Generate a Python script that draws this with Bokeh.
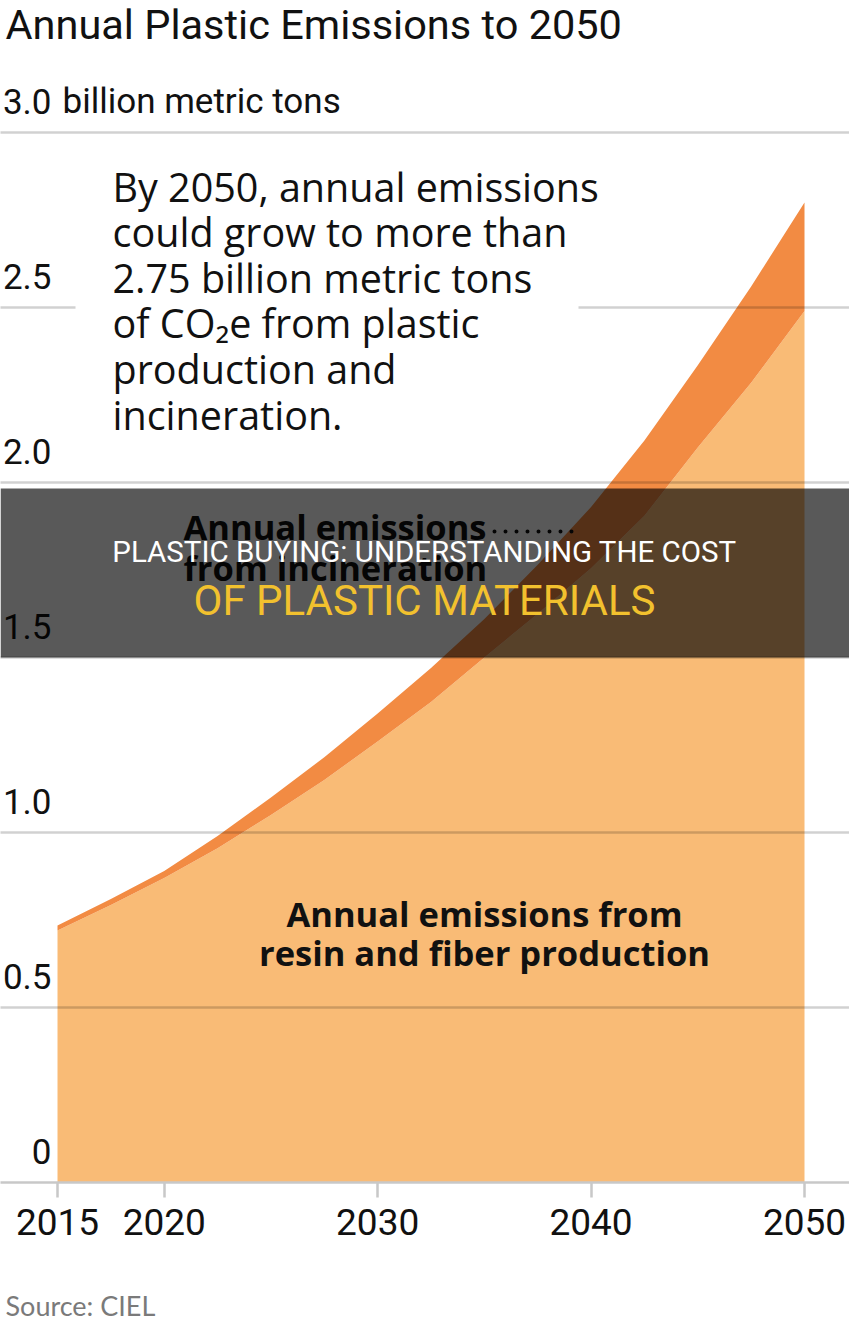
from bokeh.plotting import figure
from bokeh.models import Range1d, FixedTicker, Label, BoxAnnotation, ColumnDataSource, Grid, Title
from bokeh.embed import file_html
from bokeh.resources import INLINE
from bokeh.core.properties import value

# ---------------- data ----------------
years = [2015, 2017.5, 2020, 2022.5, 2025, 2027.5, 2030, 2032.5, 2035,
         2037.5, 2040, 2042.5, 2045, 2047.5, 2050]
# annual emissions from resin and fiber production (billion t CO2e)
resin_fiber = [0.72, 0.793, 0.87, 0.955, 1.05, 1.15, 1.26, 1.373, 1.50,
               1.625, 1.755, 1.905, 2.10, 2.285, 2.49]
# total = resin/fiber + incineration
total = [0.734, 0.81, 0.89, 0.99, 1.10, 1.215, 1.34, 1.47, 1.61,
         1.765, 1.93, 2.12, 2.335, 2.56, 2.80]
x_ticks = [2015, 2020, 2030, 2040, 2050]
y_ticks = [0, 0.5, 1.0, 1.5, 2.0, 2.5, 3.0]
y_tick_labels = ["0", "0.5", "1.0", "1.5", "2.0", "2.5", "3.0"]
unit_text = "billion metric tons"
title_text = "Annual Plastic Emissions to 2050"
note_lines = ["By 2050, annual emissions", "could grow to more than",
              "2.75 billion metric tons", "of CO\u2082e from plastic",
              "production and", "incineration."]
resin_lines = ["Annual emissions from", "resin and fiber production"]
incin_lines = ["Annual emissions", "from incineration"]
banner_lines = ["PLASTIC BUYING: UNDERSTANDING THE COST", "OF PLASTIC MATERIALS"]
source_text = "Source: CIEL"

# ---------------- styling ----------------
COND = "Roboto"
GEO = "Open Sans"
LIGHT = "#F9BB76"
DARK = "#F28B43"
W, H = 849, 1330
AXIS_Y = 1182
BOTTOM = H - AXIS_Y
PXY = 21.343          # px per year
PXV = 350.0           # px per unit
x0 = 2015 - 57 / PXY
x1 = x0 + W / PXY
y1 = AXIS_Y / PXV

def px_x(px):   # picture pixel -> data x
    return 2015 + (px - 57) / PXY

def px_y(py):   # picture pixel -> data y
    return (AXIS_Y - py) / PXV

p = figure(width=W, height=H, x_range=Range1d(x0, x1), y_range=Range1d(0, y1),
           output_backend="svg", toolbar_location=None, y_axis_location=None,
           min_border_left=0, min_border_right=0, min_border_top=0,
           min_border_bottom=BOTTOM, outline_line_color=None,
           background_fill_color="white", border_fill_color="white")
p.xgrid.visible = False
p.ygrid.visible = False

src = ColumnDataSource(dict(year=years, resin=resin_fiber, total=total))
p.varea(x="year", y1=0, y2="resin", source=src, fill_color=LIGHT)
p.varea(x="year", y1="resin", y2="total", source=src, fill_color=DARK)

grid = Grid(dimension=1, ticker=FixedTicker(ticks=[t for t in y_ticks if t > 0]),
            grid_line_color="black", grid_line_alpha=0.18, grid_line_width=2.5,
            level="guide")
p.add_layout(grid, "center")

ax = p.xaxis[0]
ax.ticker = FixedTicker(ticks=x_ticks)
ax.axis_line_color = "#c8c8c8"
ax.axis_line_width = 2.5
ax.major_tick_line_color = "#c8c8c8"
ax.major_tick_line_width = 2.5
ax.major_tick_out = 15
ax.major_tick_in = 0
ax.minor_tick_out = 0
ax.minor_tick_in = 0
ax.major_label_standoff = 11
ax.major_label_text_font = COND
ax.major_label_text_font_size = "37px"
ax.major_label_text_color = "#111111"
# blank axis label used only as spacing before the source line
ax.axis_label = " "
ax.axis_label_text_font_size = "2px"
ax.axis_label_standoff = 44

# source line under the axis
p.add_layout(Title(text=source_text, align="left", offset=5, standoff=0,
                   text_font="Lato", text_font_size="27px",
                   text_font_style="normal", text_color="#7a7a7a"), "below")

# y tick labels sitting above their gridlines
gap = 31 / PXV
p.text(x=[px_x(51)] * len(y_ticks), y=[t + gap for t in y_ticks], text=y_tick_labels,
       text_align="right", text_baseline="alphabetic", text_font=value(COND),
       text_font_size="35px", text_color="#111111")
p.add_layout(Label(x=px_x(62), y=3.0 + gap, text=unit_text, text_align="left",
                   text_baseline="alphabetic", text_font=COND, text_font_size="35px",
                   text_color="#111111"))

# title
p.add_layout(Label(x=px_x(5), y=px_y(24), text=title_text, text_font=COND,
                   text_font_size="41.5px", text_color="#111111", text_baseline="alphabetic"))

# white block behind the note (interrupts the 2.5 gridline)
p.add_layout(BoxAnnotation(left=px_x(75), right=px_x(578), bottom=2.46, top=2.54,
                           fill_color="white", fill_alpha=1.0, line_color=None))
for i, line in enumerate(note_lines):
    p.add_layout(Label(x=px_x(112), y=px_y(186) - i * 45.6 / PXV, text=line,
                       text_font=GEO, text_font_size="39.5px", text_color="#111111",
                       text_baseline="alphabetic"))

for i, line in enumerate(resin_lines):
    p.add_layout(Label(x=px_x(484), y=px_y(913 + 39 * i), text=line, text_align="center",
                       text_font=GEO, text_font_style="bold", text_font_size="34.5px",
                       text_color="#111111", text_baseline="alphabetic"))

for i, line in enumerate(incin_lines):
    p.add_layout(Label(x=px_x(183), y=px_y(526 + 41 * i), text=line, text_align="left",
                       text_font=GEO, text_font_style="bold", text_font_size="34.5px",
                       text_color="#111111", text_baseline="alphabetic"))
p.segment(x0=[px_x(494)], y0=[px_y(531)], x1=[px_x(578)], y1=[px_y(531)],
          line_color="#111111", line_width=4, line_cap="round", line_dash="0 11")

# overlay banner
p.add_layout(BoxAnnotation(bottom=1.5, top=px_y(488), fill_color="black", fill_alpha=0.65,
                           line_color=None, level="overlay"))
p.add_layout(Label(x=px_x(424), y=px_y(551), text=banner_lines[0], text_align="center",
                   text_font=COND, text_font_size="29.5px", text_color="white",
                   text_baseline="alphabetic", level="overlay"))
p.add_layout(Label(x=px_x(424), y=px_y(600), text=banner_lines[1], text_align="center",
                   text_font=COND, text_font_size="42px", text_color="#F2C12E",
                   text_baseline="alphabetic", level="overlay"))

open("out.html", "w").write(file_html(p, INLINE))
